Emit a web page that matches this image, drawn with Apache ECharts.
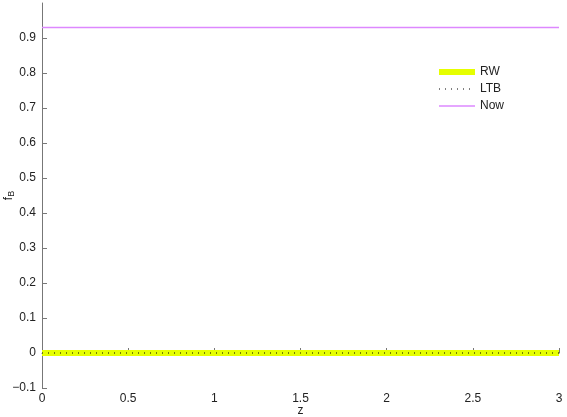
<!DOCTYPE html>
<html><head><meta charset="utf-8">
<script src="https://cdn.jsdelivr.net/npm/echarts@6/dist/echarts.min.js"></script>
<style>html,body{margin:0;padding:0;background:#fff}#c{width:567px;height:417px}</style>
</head><body><div id="c"></div>
<script>
const z = [0, 0.25, 0.5, 0.75, 1, 1.25, 1.5, 1.75, 2, 2.25, 2.5, 2.75, 3];
const rw  = [0, 0, 0, 0, 0, 0, 0, 0, 0, 0, 0, 0, 0];
const ltb = [0, 0, 0, 0, 0, 0, 0, 0, 0, 0, 0, 0, 0];
const now = [0.93, 0.93, 0.93, 0.93, 0.93, 0.93, 0.93, 0.93, 0.93, 0.93, 0.93, 0.93, 0.93];
const xTicks = [0, 0.5, 1, 1.5, 2, 2.5, 3];
const yTicks = [-0.1, 0, 0.1, 0.2, 0.3, 0.4, 0.5, 0.6, 0.7, 0.8, 0.9];
const names = ['RW', 'LTB', 'Now'];

const pair = (ys) => z.map((x, i) => [x, ys[i]]);
const chart = echarts.init(document.getElementById('c'));
const font = 'Liberation Sans, Arial, sans-serif';
chart.setOption({
  animation: false,
  grid: {left: 42, right: 8, top: 3, bottom: 29, containLabel: false, outerBoundsMode: 'none'},
  xAxis: {
    type: 'value', min: 0, max: 3, interval: 0.5,
    name: 'z', nameLocation: 'middle', nameGap: 17, nameMoveOverlap: false,
    nameTextStyle: {color: '#222', fontSize: 12, fontFamily: font},
    axisLine: {lineStyle: {color: '#777'}},
    axisTick: {inside: true, length: 5, lineStyle: {color: '#777'}, customValues: xTicks},
    axisLabel: {color: '#222', fontSize: 12, fontFamily: font, margin: 5, customValues: xTicks},
    splitLine: {show: false}
  },
  yAxis: {
    type: 'value', min: -0.1, max: 1.0,
    name: 'f{s|B}', nameLocation: 'middle', nameGap: 26, nameRotate: 90, nameMoveOverlap: false,
    nameTextStyle: {color: '#222', fontSize: 12, fontFamily: font,
      rich: {s: {fontSize: 9, verticalAlign: 'bottom', padding: [6, 0, 0, 0], fontFamily: font, color: '#222'}}},
    axisLine: {show: true, lineStyle: {color: '#777'}},
    axisTick: {show: true, inside: true, length: 5, lineStyle: {color: '#777'}, customValues: yTicks},
    axisLabel: {color: '#222', fontSize: 12, fontFamily: font, margin: 6, customValues: yTicks,
      formatter: v => (Math.abs(v) < 1e-9 ? '0' : (v < 0 ? '\u22120.1' : v.toFixed(1)))},
    splitLine: {show: false}
  },
  legend: {
    orient: 'vertical', left: 431, top: 61, itemWidth: 36, itemHeight: 12, itemGap: 5,
    itemStyle: {opacity: 0},
    textStyle: {color: '#222', fontSize: 12, fontFamily: font},
    data: [
      {name: names[0], lineStyle: {width: 6}},
      {name: names[1], lineStyle: {width: 1}},
      {name: names[2], lineStyle: {width: 1.3}}
    ]
  },
  series: [
    {name: names[0], type: 'line', data: pair(rw), symbol: 'none',
      lineStyle: {color: '#e6ff00', width: 6}, itemStyle: {color: '#e6ff00'}},
    {name: names[1], type: 'line', data: pair(ltb), symbol: 'none',
      lineStyle: {color: '#000', width: 1, type: [1, 5]}, itemStyle: {color: '#000'}},
    {name: names[2], type: 'line', data: pair(now), symbol: 'none',
      lineStyle: {color: '#dd88ff', width: 1.3}, itemStyle: {color: '#dd88ff'}}
  ]
});
</script></body></html>
